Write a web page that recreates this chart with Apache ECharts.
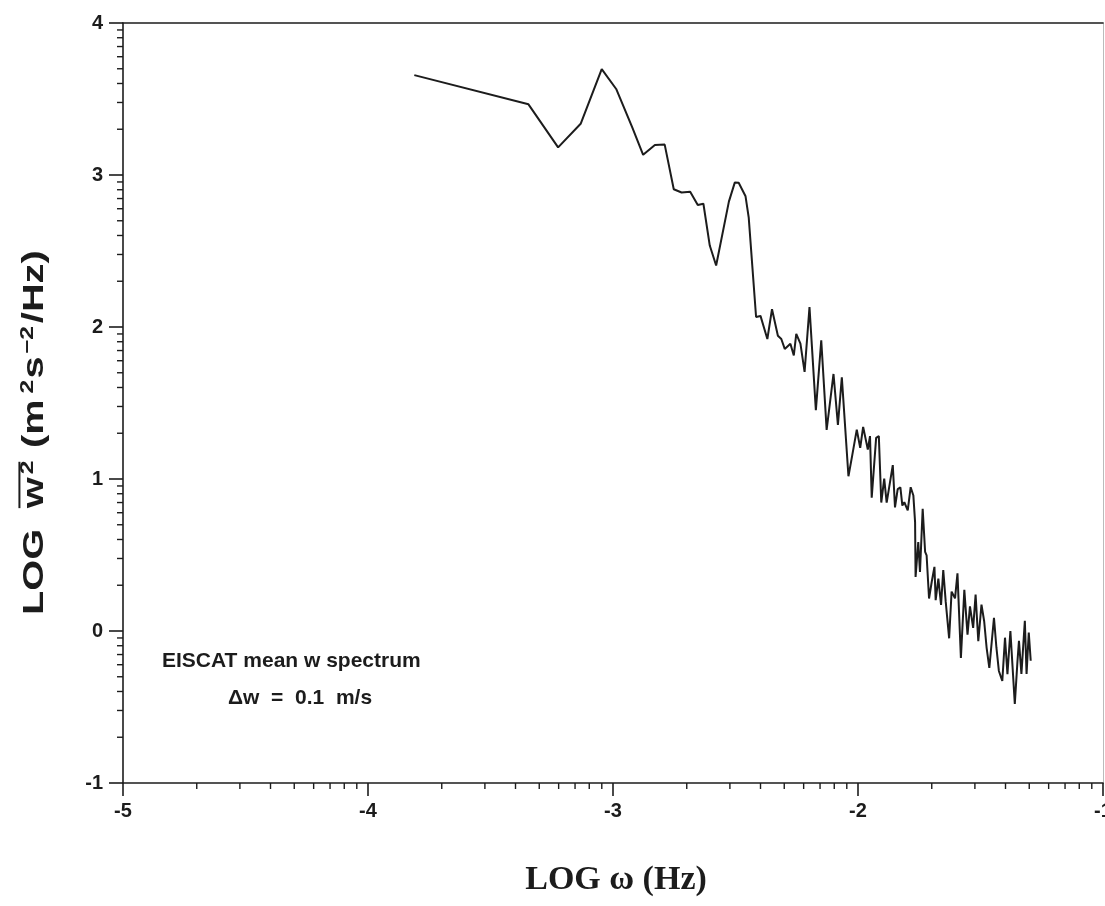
<!DOCTYPE html>
<html>
<head>
<meta charset="utf-8">
<style>
  html, body { margin: 0; padding: 0; background: #fff; }
  #chart { width: 1105px; height: 906px; }
</style>
<script src="https://cdn.jsdelivr.net/npm/echarts@6/dist/echarts.min.js"></script>
</head>
<body>
<div id="chart"></div>
<script>
// LOG omega (Hz)
var logFreq = [
  -3.811, -3.345, -3.224, -3.132, -3.046, -2.987, -2.921, -2.877, -2.829, -2.789,
  -2.752, -2.720, -2.685, -2.654, -2.631, -2.605, -2.579, -2.527, -2.503, -2.487,
  -2.459, -2.446, -2.416, -2.398, -2.370, -2.351, -2.327, -2.313, -2.299, -2.276,
  -2.262, -2.252, -2.235, -2.218, -2.198, -2.172, -2.150, -2.128, -2.100, -2.082,
  -2.066, -2.039, -2.023, -2.005, -1.991, -1.979, -1.960, -1.951, -1.944, -1.926,
  -1.915, -1.905, -1.893, -1.883, -1.858, -1.849, -1.838, -1.827, -1.819, -1.811,
  -1.797, -1.785, -1.774, -1.767, -1.765, -1.754, -1.747, -1.736, -1.726, -1.720,
  -1.710, -1.699, -1.688, -1.683, -1.672, -1.661, -1.652, -1.642, -1.628, -1.618,
  -1.604, -1.594, -1.580, -1.566, -1.553, -1.543, -1.530, -1.520, -1.509, -1.496,
  -1.485, -1.475, -1.464, -1.445, -1.435, -1.425, -1.411, -1.400, -1.390, -1.378,
  -1.369, -1.360, -1.349, -1.343, -1.333, -1.319, -1.312, -1.303, -1.295
];
// LOG mean w^2 spectral density (m^2 s^-2 / Hz)
var logPower = [
  3.657, 3.465, 3.182, 3.337, 3.697, 3.566, 3.312, 3.133, 3.198, 3.200,
  2.906, 2.885, 2.889, 2.802, 2.811, 2.536, 2.405, 2.825, 2.950, 2.949,
  2.860, 2.720, 2.066, 2.073, 1.921, 2.117, 1.943, 1.921, 1.856, 1.890,
  1.813, 1.955, 1.890, 1.705, 2.131, 1.453, 1.913, 1.323, 1.691, 1.356,
  1.669, 1.018, 1.160, 1.325, 1.205, 1.343, 1.194, 1.282, 0.877, 1.271,
  1.282, 0.845, 1.003, 0.845, 1.091, 0.813, 0.934, 0.945, 0.825, 0.847,
  0.793, 0.946, 0.891, 0.716, 0.355, 0.585, 0.388, 0.804, 0.520, 0.498,
  0.214, 0.324, 0.422, 0.203, 0.345, 0.171, 0.401, 0.193, -0.048, 0.259,
  0.215, 0.379, -0.178, 0.271, -0.024, 0.162, 0.020, 0.239, -0.067, 0.174,
  0.064, -0.111, -0.242, 0.087, -0.110, -0.263, -0.329, -0.044, -0.284, 0.000,
  -0.240, -0.480, -0.196, -0.065, -0.283, 0.067, -0.283, -0.010, -0.196
];
var xTicks = [-5, -4, -3, -2, -1];
var yTicks = [-1, 0, 1, 2, 3, 4];

var INK = '#1c1c1c';
var SANS = '"Liberation Sans", Arial, sans-serif';
var SERIF = '"Liberation Serif", "Times New Roman", serif';

var lineData = logFreq.map(function (x, i) { return [x, logPower[i]]; });

// log-style minor ticks inside each decade
function minorTicks(majors) {
  var out = [];
  for (var i = 0; i < majors.length - 1; i++) {
    for (var k = 2; k <= 9; k++) out.push(majors[i] + Math.log10(k));
  }
  return out;
}
var xMinor = minorTicks(xTicks).map(function (v) { return [v, yTicks[0]]; });
var yMinor = minorTicks(yTicks).map(function (v) { return [xTicks[0], v]; });

function tickSeries(data, horizontal) {
  return {
    type: 'custom',
    silent: true,
    clip: false,
    z: 5,
    data: data,
    encode: { x: 0, y: 1 },
    renderItem: function (params, api) {
      var p = api.coord([api.value(0), api.value(1)]);
      var len = 6;
      return {
        type: 'line',
        shape: horizontal
          ? { x1: p[0], y1: p[1], x2: p[0], y2: p[1] + len }
          : { x1: p[0] - len, y1: p[1], x2: p[0], y2: p[1] },
        style: { stroke: INK, lineWidth: 1.4 }
      };
    }
  };
}

// y axis title in pieces (overline over w^2, superscripts)
var measureCtx = document.createElement('canvas').getContext('2d');
function textWidth(str, font) {
  measureCtx.font = font;
  return measureCtx.measureText(str).width;
}
var F = 29, FS = 18;
var bigFont = 'bold ' + F + 'px ' + SANS;
var supFont = 'bold ' + FS + 'px ' + SANS;
var titleParts = [
  ['LOG ', 0], ['w', 0], ['2', 1], [' (m', 0], ['2', 1], ['s', 0], ['\u22122', 1], ['/Hz)', 0]
];
var yTitleChildren = [];
var cx = 0, wStart = 0, wEnd = 0;
titleParts.forEach(function (p, i) {
  var font = p[1] ? supFont : bigFont;
  if (i === 1) wStart = cx;
  yTitleChildren.push({
    type: 'text',
    x: cx,
    y: p[1] ? -F * 0.42 : 0,
    style: {
      text: p[0], font: font, fill: INK,
      align: 'left', verticalAlign: 'bottom',
      textAlign: 'left', textVerticalAlign: 'bottom'
    }
  });
  cx += textWidth(p[0], font) * 1.1;
  if (i === 2) wEnd = cx;
});
yTitleChildren.push({
  type: 'line',
  shape: { x1: wStart, y1: -F * 1.02, x2: wEnd - 2, y2: -F * 1.02 },
  style: { stroke: INK, lineWidth: 2 }
});
var yTitleLength = 372;
var yTitleScale = yTitleLength / cx;

var chart = echarts.init(document.getElementById('chart'), null, { renderer: 'canvas' });

var axisBase = {
  type: 'value',
  splitLine: { show: false },
  axisLine: { show: true, onZero: false, lineStyle: { color: INK, width: 1.6 } }
};

chart.setOption({
  animation: false,
  backgroundColor: '#fff',
  grid: { left: 123, right: 2, top: 23, bottom: 123, outerBoundsMode: 'none', containLabel: false },
  xAxis: [
    Object.assign({}, axisBase, {
      position: 'bottom',
      min: -5, max: -1, interval: 1,
      axisTick: { show: true, length: 13, lineStyle: { color: INK, width: 1.6 } },
      axisLabel: {
        margin: 18, fontSize: 20, fontWeight: 'bold', fontFamily: SANS, color: INK,
        showMinLabel: true, showMaxLabel: true, hideOverlap: false,
        formatter: function (v) { return String(v); }
      }
    }),
    Object.assign({}, axisBase, {
      position: 'top',
      min: -5, max: -1,
      axisTick: { show: false },
      axisLabel: { show: false }
    })
  ],
  yAxis: [
    Object.assign({}, axisBase, {
      position: 'left',
      min: -1, max: 4, interval: 1,
      axisTick: { show: true, length: 14, lineStyle: { color: INK, width: 1.6 } },
      axisLabel: {
        margin: 20, fontSize: 20, fontWeight: 'bold', fontFamily: SANS, color: INK,
        formatter: function (v) { return String(v); }
      }
    }),
    Object.assign({}, axisBase, {
      position: 'right',
      min: -1, max: 4,
      axisLine: { show: true, onZero: false, lineStyle: { color: '#bbb', width: 1 } },
      axisTick: { show: false },
      axisLabel: { show: false }
    })
  ],
  series: [
    {
      type: 'line',
      data: lineData,
      showSymbol: false,
      symbol: 'none',
      lineStyle: { color: INK, width: 2 },
      z: 4
    },
    tickSeries(xMinor, true),
    tickSeries(yMinor, false)
  ],
  graphic: [
    {
      type: 'text',
      x: 616,
      y: 880,
      style: {
        text: 'LOG \u03c9 (Hz)',
        font: 'bold 34px ' + SERIF,
        fill: INK,
        align: 'center', verticalAlign: 'middle',
        textAlign: 'center', textVerticalAlign: 'middle'
      }
    },
    {
      type: 'group',
      x: 49,
      y: 615,
      rotation: Math.PI / 2,
      scaleX: yTitleScale,
      scaleY: 1,
      children: yTitleChildren
    },
    {
      type: 'text',
      x: 162,
      y: 651,
      style: {
        text: 'EISCAT mean w spectrum',
        font: 'bold 21px ' + SANS,
        fill: INK
      }
    },
    {
      type: 'text',
      x: 228,
      y: 688,
      style: {
        text: '\u0394w  =  0.1  m/s',
        font: 'bold 21px ' + SANS,
        fill: INK
      }
    }
  ]
});
</script>
</body>
</html>
